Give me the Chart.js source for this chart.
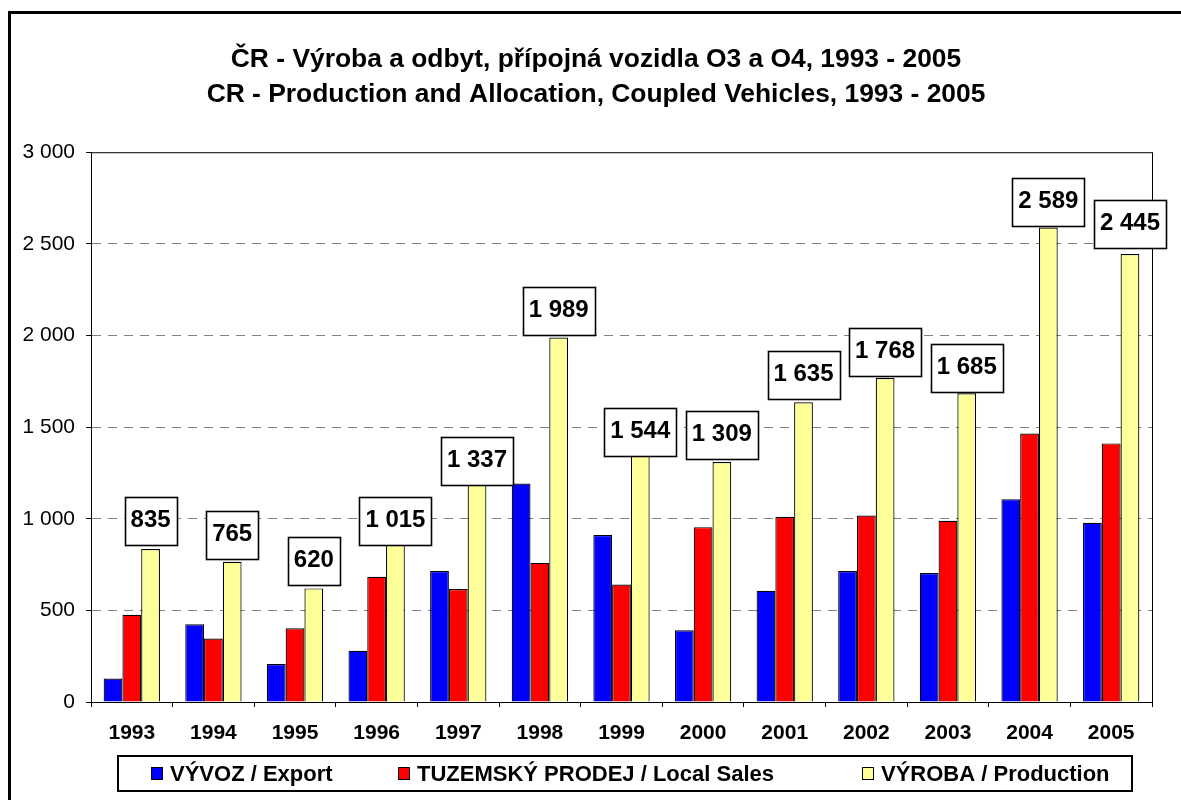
<!DOCTYPE html>
<html lang="cs">
<head>
    <meta charset="UTF-8">
    <title>ČR - Výroba a odbyt, přípojná vozidla O3 a O4</title>
    <script src="https://cdn.jsdelivr.net/npm/chart.js"></script>
    <style>
        * { box-sizing: border-box; margin: 0; padding: 0; }
        body { background: #fff; overflow: hidden; }
        #chart { display: block; }
    </style>
</head>
<body>
    <canvas id="chart" width="1181" height="800"></canvas>

    <script>
        // Data
        const years = ['1993', '1994', '1995', '1996', '1997', '1998', '1999', '2000', '2001', '2002', '2003', '2004', '2005'];
        const exportVals = [128, 424, 207, 280, 715, 1192, 911, 391, 607, 715, 704, 1107, 978];
        const localVals = [476, 346, 402, 683, 617, 759, 641, 954, 1011, 1018, 989, 1465, 1411];
        const productionVals = [835, 765, 620, 1015, 1337, 1989, 1544, 1309, 1635, 1768, 1685, 2589, 2445];
        const seriesNames = ['VÝVOZ / Export', 'TUZEMSKÝ PRODEJ / Local Sales', 'VÝROBA / Production'];
        const titleLines = ['ČR - Výroba a odbyt, přípojná vozidla O3 a O4, 1993 - 2005', 'CR - Production and Allocation, Coupled Vehicles, 1993 - 2005'];

        const FONT = 'Arial, "Liberation Sans", sans-serif';
        const fmt = v => String(v).replace(/\B(?=(\d{3})+(?!\d))/g, ' ');

        // where each value box sits relative to the top of its bar (px, box bottom)
        const labelDrop = [-4, -3, -3, 29, 28, -2, 37, -3, -3, -2, -1, -2, -6];
        const legendX = [151, 398, 862];

        // white page, plot box and the cut-off outer frame
        const frame = {
            id: 'frame',
            afterLayout(chart) {
                // the title in the original sits a bit right of the page centre
                chart.titleBlock.left += 30;
            },
            beforeDraw(chart) {
                const ctx = chart.ctx;
                ctx.save();
                ctx.fillStyle = '#fff';
                ctx.fillRect(0, 0, chart.width, chart.height);
                ctx.restore();
            },
            beforeDatasetsDraw(chart) {
                const { ctx, chartArea: a } = chart;
                ctx.save();
                ctx.strokeStyle = '#000';
                ctx.lineWidth = 1;
                ctx.strokeRect(a.left + 0.5, a.top + 0.5, a.right - a.left, a.bottom - a.top);
                ctx.restore();
            },
            afterDraw(chart) {
                const ctx = chart.ctx;
                ctx.save();
                ctx.strokeStyle = '#000';
                ctx.lineWidth = 3;
                ctx.strokeRect(9.5, 12.5, chart.width + 40, chart.height + 40);
                ctx.restore();
            }
        };

        // boxed value labels above the production bars
        const valueBoxes = {
            id: 'valueBoxes',
            afterDatasetsDraw(chart) {
                const ctx = chart.ctx;
                const meta = chart.getDatasetMeta(2);
                ctx.save();
                ctx.font = 'bold 24px ' + FONT;
                ctx.textAlign = 'center';
                ctx.textBaseline = 'middle';
                meta.data.forEach((bar, i) => {
                    const txt = fmt(chart.data.datasets[2].data[i]);
                    const w = Math.round(ctx.measureText(txt).width) + 12;
                    const h = 48;
                    const x = Math.round(bar.x - w / 2) + 0.5;
                    const y = Math.round(bar.y + labelDrop[i] - h) + 0.5;
                    ctx.fillStyle = '#fff';
                    ctx.fillRect(x, y, w, h);
                    ctx.strokeStyle = '#000';
                    ctx.lineWidth = 1.6;
                    ctx.strokeRect(x, y, w, h);
                    ctx.fillStyle = '#000';
                    ctx.fillText(txt, bar.x, y + h / 2 - 1);
                });
                ctx.restore();
            }
        };

        // Excel style legend in a box
        const boxLegend = {
            id: 'boxLegend',
            afterDraw(chart) {
                const ctx = chart.ctx;
                ctx.save();
                ctx.strokeStyle = '#000';
                ctx.lineWidth = 2;
                ctx.strokeRect(118, 756, 1014, 35);
                ctx.font = 'bold 22px ' + FONT;
                ctx.textAlign = 'left';
                ctx.textBaseline = 'middle';
                chart.data.datasets.forEach((ds, i) => {
                    const sx = legendX[i];
                    ctx.fillStyle = ds.backgroundColor;
                    ctx.fillRect(sx, 767, 12, 13);
                    ctx.lineWidth = 1;
                    ctx.strokeRect(sx + 0.5, 767.5, 11, 12);
                    ctx.fillStyle = '#000';
                    ctx.fillText(ds.label, sx + 19, 775);
                });
                ctx.restore();
            }
        };

        const ctx = document.getElementById('chart').getContext('2d');
        new Chart(ctx, {
            type: 'bar',
            data: {
                labels: years,
                datasets: [
                    { label: seriesNames[0], data: exportVals, backgroundColor: '#0000FF' },
                    { label: seriesNames[1], data: localVals, backgroundColor: '#FF0000' },
                    { label: seriesNames[2], data: productionVals, backgroundColor: '#FFFF99' }
                ].map(d => Object.assign(d, {
                    borderColor: '#000',
                    borderWidth: 1.2,
                    barPercentage: 1,
                    categoryPercentage: 0.69
                }))
            },
            options: {
                responsive: false,
                animation: false,
                layout: { padding: { top: 42, left: 10, right: 29, bottom: 0 } },
                plugins: {
                    legend: { display: false },
                    tooltip: { enabled: false },
                    title: {
                        display: true,
                        text: titleLines,
                        color: '#000',
                        font: { family: FONT, size: 26.4, weight: 'bold', lineHeight: 1.33 },
                        padding: { top: 0, bottom: 40 }
                    }
                },
                scales: {
                    x: {
                        grid: { display: true, drawOnChartArea: false, offset: true, color: '#000', tickLength: 5 },
                        border: { color: '#000', width: 1 },
                        ticks: {
                            color: '#000',
                            font: { family: FONT, size: 21, weight: 'bold' },
                            padding: 14,
                            maxRotation: 0,
                            autoSkip: false
                        },
                        afterFit(scale) { scale.height = 98; }
                    },
                    y: {
                        min: 0,
                        max: 3000,
                        ticks: {
                            stepSize: 500,
                            color: '#000',
                            font: { family: FONT, size: 21 },
                            padding: 11,
                            callback: v => fmt(v)
                        },
                        grid: {
                            color: c => (c.tick && (c.tick.value === 0 || c.tick.value === 3000)) ? 'rgba(0,0,0,0)' : '#808080',
                            tickColor: '#000',
                            tickLength: 5,
                            tickBorderDash: []
                        },
                        border: { color: '#000', width: 1, dash: [9, 7] },
                        afterFit(scale) { scale.width = 81; }
                    }
                }
            },
            plugins: [frame, valueBoxes, boxLegend]
        });
    </script>
</body>
</html>
